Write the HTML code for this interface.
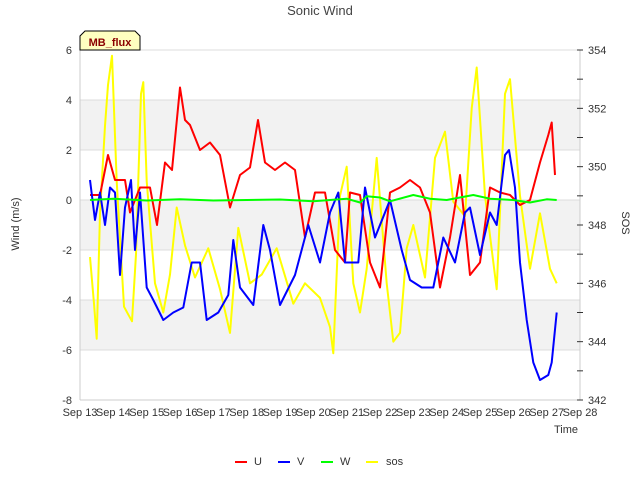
<!DOCTYPE html>
<html><head><meta charset="utf-8"><style>
body{margin:0;background:#fff;font-family:"Liberation Sans",sans-serif}
</style></head><body>
<svg id="c" width="640" height="480" xmlns="http://www.w3.org/2000/svg" font-family="Liberation Sans, sans-serif">
</svg>
<script>
const uT=[13.3,13.6,13.84,14.05,14.35,14.5,14.8,15.1,15.31,15.55,15.76,16.0,16.15,16.3,16.6,16.9,17.2,17.5,17.8,18.1,18.34,18.55,18.85,19.15,19.45,19.75,20.05,20.35,20.65,20.95,21.1,21.4,21.7,22.0,22.3,22.6,22.9,23.2,23.5,23.8,24.1,24.4,24.7,25.0,25.3,25.6,25.9,26.2,26.5,26.8,27.05,27.15,27.25];
const uV=[0.2,0.2,1.8,0.8,0.8,-0.5,0.5,0.5,-1.0,1.5,1.2,4.5,3.2,3.0,2.0,2.3,1.8,-0.3,1.0,1.3,3.2,1.5,1.2,1.5,1.2,-1.5,0.3,0.3,-2,-2.5,0.3,0.2,-2.5,-3.5,0.3,0.5,0.8,0.5,-0.5,-3.5,-1.5,1.0,-3,-2.5,0.5,0.3,0.2,-0.2,0,1.5,2.6,3.1,1.0];
const vT=[13.3,13.45,13.6,13.75,13.9,14.05,14.2,14.35,14.53,14.65,14.8,15.0,15.2,15.5,15.8,16.1,16.35,16.6,16.8,17.15,17.45,17.6,17.8,18.2,18.5,18.7,19.0,19.45,19.85,20.2,20.5,20.75,20.95,21.35,21.55,21.85,22.3,22.65,22.9,23.25,23.6,23.9,24.25,24.55,24.7,25.0,25.3,25.5,25.75,25.87,26.05,26.2,26.4,26.6,26.8,27.05,27.15,27.3];
const vV=[0.8,-0.8,0.3,-1,0.5,0.3,-3.0,-0.3,0.8,-2,0.3,-3.5,-4,-4.8,-4.5,-4.3,-2.5,-2.5,-4.8,-4.5,-3.8,-1.6,-3.5,-4.2,-1.0,-2,-4.2,-3.0,-1,-2.5,-0.5,0.3,-2.5,-2.5,0.5,-1.5,0,-2,-3.2,-3.5,-3.5,-1.5,-2.5,-0.5,-0.3,-2.2,-0.5,-1,1.8,2.0,0.5,-2.5,-4.8,-6.5,-7.2,-7.0,-6.5,-4.5];
const wT=[13.3,14,15,16,17,18,19,20,21,21.4,21.6,22,22.3,23,23.5,24,24.8,25.3,26,26.5,27,27.3];
const wV=[0,0.05,-0.02,0.03,-0.02,0,0.02,-0.05,0.05,-0.1,0.15,0.1,-0.05,0.2,0.05,0,0.2,0.05,0,-0.1,0.03,0];
const sT=[13.3,13.42,13.5,13.6,13.75,13.84,13.96,14.1,14.32,14.56,14.68,14.83,14.9,15.0,15.25,15.5,15.7,15.9,16.15,16.45,16.85,17.2,17.5,17.75,18.1,18.45,18.9,19.4,19.75,20.2,20.5,20.6,20.8,21.0,21.2,21.4,21.6,21.9,22.2,22.4,22.6,22.8,23.0,23.35,23.65,23.95,24.2,24.55,24.75,24.9,25.15,25.5,25.75,25.9,26.2,26.5,26.8,27.1,27.3];
const sV=[346.9,345.3,344.1,348.4,351.4,352.8,353.8,349.5,345.2,344.7,347,352.5,352.9,349.5,346,345,346.3,348.6,347.3,346.2,347.2,345.8,344.3,347.9,346,346.3,347.2,345.3,346,345.5,344.5,343.6,349,350,346,345,346.5,350.3,346,344,344.3,347.2,348,346.2,350.3,351.2,348.8,348.3,352,353.4,349,345.8,352.5,353,349,346.5,348.4,346.5,346];
const yTicks=[-8,-6,-4,-2,0,2,4,6];
const sTicks=[342,344,346,348,350,352,354];
const xDays=[13,14,15,16,17,18,19,20,21,22,23,24,25,26,27,28];

const L=80,R=580,T=50,B=400,NS="http://www.w3.org/2000/svg";
const x=d=>L+(d-13)*(R-L)/15;
const y=v=>B-(v+8)*(B-T)/14;
const y2=v=>B-(v-342)*(B-T)/12;
const svg=document.getElementById('c');
function mk(tag,at,txt){const e=document.createElementNS(NS,tag);for(const k in at)e.setAttribute(k,at[k]);if(txt!==undefined)e.textContent=txt;svg.appendChild(e);return e;}
// bands
[[4,2],[0,-2],[-4,-6]].forEach(b=>{const r=mk('rect',{x:L,y:y(b[0]),width:R-L,height:y(b[1])-y(b[0]),fill:'#f2f2f2'});

});
yTicks.forEach(v=>{const g=mk('line',{x1:L,x2:R,y1:y(v),y2:y(v),stroke:'#dcdcdc','stroke-width':1});


const t=mk('text',{x:72,y:y(v)+4,'text-anchor':'end','font-size':11,fill:'#333'},v);

});
mk('line',{x1:L,x2:L,y1:T,y2:B,stroke:'#ccc'});
mk('line',{x1:R,x2:R,y1:T,y2:B,stroke:'#ccc'});
mk('line',{x1:L,x2:R,y1:B,y2:B,stroke:'#ccc'});
for(let v=342;v<=354;v++){const tk=mk('line',{x1:R-3,x2:R+3,y1:y2(v),y2:y2(v),stroke:'#333'});

}
sTicks.forEach(v=>{const t=mk('text',{x:588,y:y2(v)+4,'font-size':11,fill:'#333'},v);

});
xDays.forEach(d=>{const t=mk('text',{x:x(d),y:416,'text-anchor':'middle','font-size':11,fill:'#333'},'Sep '+d);

});
function series(T_,V_,fy,col,name){const p=T_.map((t,i)=>x(t).toFixed(1)+','+fy(V_[i]).toFixed(1)).join(' ');
const e=mk('polyline',{points:p,fill:'none',stroke:col,'stroke-width':2,'stroke-linejoin':'round'});

}
series(sT,sV,y2,'#ffff00','series-sos');
series(uT,uV,y,'#ff0000','series-u');
series(vT,vV,y,'#0000ff','series-v');
series(wT,wV,y,'#00ff00','series-w');
</script>
<svg width="640" height="480" style="position:absolute;left:0;top:0" xmlns="http://www.w3.org/2000/svg" font-family="Liberation Sans, sans-serif">
<text x="320" y="15" text-anchor="middle" font-size="13" fill="#444">Sonic Wind</text>
<text x="19" y="224" text-anchor="middle" font-size="11" fill="#333" transform="rotate(-90 19 224)">Wind (m/s)</text>
<text x="622" y="223" text-anchor="middle" font-size="11" fill="#333" transform="rotate(90 622 223)">SOS</text>
<text x="578" y="433" text-anchor="end" font-size="11" fill="#333">Time</text>
<g>
<polygon points="85,31 135,31 140,36 140,50 80,50 80,36" fill="#ffffc0" stroke="#000" stroke-width="1"/>
<text x="110" y="46" text-anchor="middle" font-size="11" font-weight="bold" fill="#8b0000">MB_flux</text>
</g>
<g>
<g><line x1="235" x2="247" y1="462" y2="462" stroke="#f00" stroke-width="2"/><text x="254" y="465" font-size="11" fill="#333">U</text></g>
<g><line x1="278" x2="290" y1="462" y2="462" stroke="#00f" stroke-width="2"/><text x="297" y="465" font-size="11" fill="#333">V</text></g>
<g><line x1="321" x2="333" y1="462" y2="462" stroke="#0f0" stroke-width="2"/><text x="340" y="465" font-size="11" fill="#333">W</text></g>
<g><line x1="366" x2="378" y1="462" y2="462" stroke="#ff0" stroke-width="2"/><text x="386" y="465" font-size="11" fill="#333">sos</text></g>
</g>
</svg>
</body></html>
